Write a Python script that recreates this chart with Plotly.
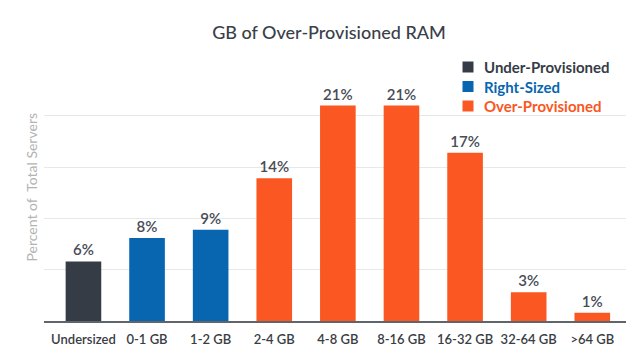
import plotly.graph_objects as go

categories = ["Undersized", "0-1 GB", "1-2 GB", "2-4 GB", "4-8 GB", "8-16 GB", "16-32 GB", "32-64 GB", ">64 GB"]
values = [5.8, 8.1, 8.9, 13.9, 21.0, 21.0, 16.4, 2.8, 0.8]
labels = ["6%", "8%", "9%", "14%", "21%", "21%", "17%", "3%", "1%"]
groups = ["Under-Provisioned", "Right-Sized", "Right-Sized", "Over-Provisioned", "Over-Provisioned",
          "Over-Provisioned", "Over-Provisioned", "Over-Provisioned", "Over-Provisioned"]
series = ["Under-Provisioned", "Right-Sized", "Over-Provisioned"]
colors = {"Under-Provisioned": "#363c46", "Right-Sized": "#0866b0", "Over-Provisioned": "#fa5722"}

W, H = 639, 350
L, R, T, B = 44, 13, 85, 29
PW, PH = W - L - R, H - T - B


def px_x(x):
    return (x - L) / PW


def px_y(y):
    return (H - B - y) / PH


fig = go.Figure()
for s in series:
    xs = [c for c, g in zip(categories, groups) if g == s]
    ys = [v for v, g in zip(values, groups) if g == s]
    ts = [t for t, g in zip(labels, groups) if g == s]
    fig.add_trace(go.Bar(
        x=xs, y=ys, text=ts, textposition="outside", cliponaxis=False,
        textfont=dict(family="Lato", size=15, color="#474c55", weight=600),
        marker=dict(color=colors[s], line=dict(width=0)),
        name=s, showlegend=False,
        width=0.56,
    ))

annotations = [dict(text="Percent of  Total Servers", textangle=-90, x=px_x(20),
                    y=px_y(187), xref="paper", yref="paper", showarrow=False,
                    font=dict(family="Lato", size=14, color="#b3b3b3"))]
shapes = []
row_y = [67, 86.5, 106]
for s, yy in zip(series, row_y):
    annotations.append(dict(text=f"<b>{s}</b>", x=px_x(482), y=px_y(yy), xref="paper", yref="paper",
                            xanchor="left", yanchor="middle", showarrow=False,
                            font=dict(family="Lato", size=15, color=colors[s])))
    shapes.append(dict(type="rect", xref="paper", yref="paper",
                       x0=px_x(462.5), x1=px_x(473.5), y0=px_y(yy - 5.5), y1=px_y(yy + 5.5),
                       fillcolor=colors[s], line=dict(width=0)))

fig.update_layout(
    width=W, height=H,
    margin=dict(l=L, r=R, t=T, b=B),
    paper_bgcolor="white", plot_bgcolor="white",
    barmode="overlay",
    font=dict(family="Lato", color="#333"),
    title=dict(text="GB of Over-Provisioned RAM", x=329 / W, xanchor="center",
               y=1 - 33 / H, yanchor="middle",
               font=dict(family="Lato", size=18, color="#3a3f4a", weight=500)),
    xaxis=dict(type="category", categoryorder="array", categoryarray=categories,
               range=[-0.62, 8.53], showgrid=False, showline=True, linecolor="#60656c",
               linewidth=1.5, ticks="", ticklabelstandoff=6, automargin=False,
               tickfont=dict(family="Lato", size=13, color="#3a3d44", weight=600)),
    yaxis=dict(range=[0, 23], dtick=5, showticklabels=False, showgrid=True, automargin=False,
               gridcolor="#e8e8e8", gridwidth=1, zeroline=False),
    showlegend=False,
    annotations=annotations,
    shapes=shapes,
)

fig.write_html("out.html")
